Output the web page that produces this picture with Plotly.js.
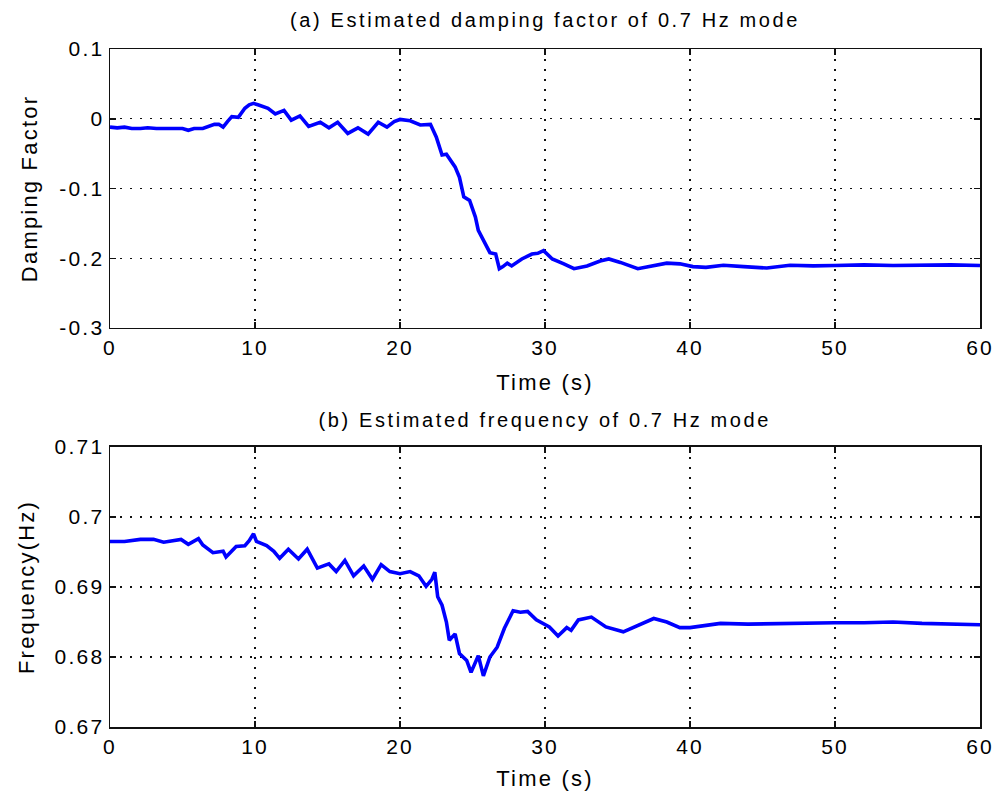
<!DOCTYPE html>
<html>
<head>
<meta charset="utf-8">
<script src="https://cdn.plot.ly/plotly-3.0.1.min.js"></script>
<style>
  html, body { margin: 0; padding: 0; background: #fff; }
  #chart .main-svg text { letter-spacing: 2.2px; }
  #chart .main-svg text.annotation-text { letter-spacing: 2.6px; }
</style>
</head>
<body>
<div id="chart" style="width:994px;height:797px;"></div>
<script>
// ---- Data ----
const timeA = [0, 0.5, 1, 1.5, 2.1, 2.6, 3.2, 3.9, 4.5, 5.0, 5.4, 5.8, 6.4, 6.8, 7.2, 7.5, 7.8, 8.1, 8.4, 8.85,
  9.3, 9.6, 9.9, 10.2, 10.5, 10.9, 11.4, 12.0, 12.5, 13.1, 13.7, 14.1, 14.5, 15.1, 15.7, 16.4, 17.1, 17.8, 18.5, 19.1,
  19.6, 20.0, 20.7, 21.4, 22.1, 22.5, 22.9, 23.2, 23.5, 23.8, 24.1, 24.4, 24.8, 25.2, 25.4, 25.9, 26.2, 26.6, 26.85, 27.1,
  27.4, 27.7, 28.4, 29.1, 29.5, 29.9, 30.5, 31.3, 32.0, 32.9, 33.8, 34.4, 35.2, 36.4, 37.5, 38.4, 39.3, 40.2, 41.1, 42.3,
  43.7, 45.3, 46.9, 48.5, 50, 52, 54, 56, 58, 60];
const dampingFactor = [-0.012, -0.013, -0.012, -0.014, -0.014, -0.013, -0.014, -0.014, -0.013, -0.014, -0.0165, -0.014, -0.014, -0.011, -0.008, -0.008, -0.012, -0.004, 0.003, 0.002,
  0.015, 0.020, 0.022, 0.020, 0.018, 0.015, 0.007, 0.012, -0.002, 0.004, -0.011, -0.008, -0.005, -0.013, -0.005, -0.021, -0.013, -0.022, -0.005, -0.012,
  -0.004, -0.001, -0.003, -0.009, -0.008, -0.026, -0.052, -0.051, -0.060, -0.069, -0.084, -0.112, -0.117, -0.141, -0.160, -0.180, -0.192, -0.194, -0.215, -0.212,
  -0.207, -0.211, -0.201, -0.194, -0.193, -0.189, -0.201, -0.208, -0.215, -0.211, -0.204, -0.201, -0.206, -0.215, -0.211, -0.207, -0.208, -0.212, -0.213, -0.210,
  -0.212, -0.214, -0.210, -0.211, -0.2105, -0.2095, -0.2105, -0.2095, -0.2095, -0.2105];

const timeB = [0, 1, 2.1, 3.0, 3.7, 4.3, 4.9, 5.4, 6.1, 6.4, 7.1, 7.8, 8.0, 8.7, 9.3, 9.6, 9.9, 10.1, 10.8, 11.3,
  11.7, 12.3, 13.0, 13.6, 14.3, 15.1, 15.6, 16.2, 16.8, 17.5, 18.1, 18.7, 19.3, 20.0, 20.7, 21.3, 21.8, 22.2, 22.4, 22.6,
  22.9, 23.2, 23.4, 23.8, 24.1, 24.6, 24.9, 25.4, 25.75, 26.2, 26.7, 27.2, 27.8, 28.3, 28.8, 29.4, 30.3, 30.9, 31.5, 31.8,
  32.3, 33.2, 34.2, 35.4, 36.1, 37.5, 38.4, 39.3, 40.0, 40.9, 42.1, 44, 46, 48, 50, 52, 54, 56, 58, 60];
const frequency = [0.6965, 0.6965, 0.6968, 0.6968, 0.6964, 0.6966, 0.6968, 0.6961, 0.6969, 0.6960, 0.6949, 0.6951, 0.6943, 0.6958, 0.6959, 0.6966, 0.6976, 0.6965, 0.6959, 0.6951,
  0.6941, 0.6954, 0.6940, 0.6954, 0.6927, 0.6933, 0.6922, 0.6938, 0.6916, 0.6930, 0.6911, 0.6932, 0.6922, 0.6919, 0.6922, 0.6916, 0.6901, 0.6911, 0.6921, 0.6886,
  0.6874, 0.6850, 0.6824, 0.6833, 0.6805, 0.6795, 0.6778, 0.6802, 0.6773, 0.6800, 0.6814, 0.6841, 0.6866, 0.6864, 0.6865, 0.6853, 0.6843, 0.6830, 0.6842, 0.6838,
  0.6853, 0.6857, 0.6843, 0.6836, 0.6842, 0.6855, 0.6850, 0.6842, 0.6842, 0.6845, 0.6848, 0.6847, 0.6848, 0.6848, 0.6849, 0.6849, 0.6850, 0.6848, 0.6847, 0.6846];

const xTickVals = [0, 10, 20, 30, 40, 50, 60];
const xTickText = ['0', '10', '20', '30', '40', '50', '60'];
const yTickValsA = [0.1, 0, -0.1, -0.2, -0.3];
const yTickTextA = ['0.1', '0', '-0.1', '-0.2', '-0.3'];
const yTickValsB = [0.71, 0.70, 0.69, 0.68, 0.67];
const yTickTextB = ['0.71', '0.7', '0.69', '0.68', '0.67'];

const titleA = '(a) Estimated damping factor of 0.7 Hz mode';
const titleB = '(b) Estimated frequency of 0.7 Hz mode';

// ---- Styling ----
const FONT = 'Liberation Sans, Arial, sans-serif';
const tickFont = {family: FONT, size: 21, color: '#000'};
const axTitleFont = {family: FONT, size: 22, color: '#000'};
const gridDash = '1.6px,8.4px';

function xAxis(anchor, standoff) {
  return {
    anchor: anchor, range: [0, 60], tickvals: xTickVals, ticktext: xTickText,
    showgrid: true, gridcolor: '#111', gridwidth: 1.4, griddash: gridDash,
    zeroline: false, showline: true, linecolor: '#111', linewidth: 1.5, mirror: 'ticks',
    ticks: 'inside', ticklen: 6, tickwidth: 1.5, tickcolor: '#111',
    tickfont: tickFont, automargin: false,
    title: {text: 'Time (s)', font: axTitleFont, standoff: standoff}
  };
}
function yAxis(anchor, domain, range, vals, text, title, standoff) {
  return {
    anchor: anchor, domain: domain, range: range, tickvals: vals, ticktext: text,
    showgrid: true, gridcolor: '#111', gridwidth: 1.4, griddash: gridDash,
    zeroline: false, showline: true, linecolor: '#111', linewidth: 1.5, mirror: 'ticks',
    ticks: 'inside', ticklen: 6, tickwidth: 1.5, tickcolor: '#111',
    tickfont: tickFont, automargin: false,
    title: {text: title, font: axTitleFont, standoff: standoff}
  };
}

const traces = [
  {x: timeA, y: dampingFactor, xaxis: 'x', yaxis: 'y', type: 'scatter', mode: 'lines',
   line: {color: '#0000ff', width: 3.6}, hoverinfo: 'skip'},
  {x: timeB, y: frequency, xaxis: 'x2', yaxis: 'y2', type: 'scatter', mode: 'lines',
   line: {color: '#0000ff', width: 3.6}, hoverinfo: 'skip'}
];

const layout = {
  width: 994, height: 797,
  margin: {l: 110, r: 14, t: 49, b: 70, pad: 0},
  paper_bgcolor: '#fff', plot_bgcolor: '#fff',
  showlegend: false,
  xaxis: xAxis('y', 17),
  yaxis: yAxis('x', [0.5885, 1], [-0.3, 0.1], yTickValsA, yTickTextA, 'Damping Factor', 24),
  xaxis2: xAxis('y2', 14),
  yaxis2: yAxis('x2', [0, 0.413], [0.67, 0.71], yTickValsB, yTickTextB, 'Frequency(Hz)', 22),
  annotations: [
    {text: titleA, xref: 'paper', yref: 'paper', x: 0.5, y: 1.0428, xanchor: 'center', yanchor: 'middle',
     showarrow: false, font: {family: FONT, size: 20, color: '#000'}},
    {text: titleB, xref: 'paper', yref: 'paper', x: 0.5, y: 0.4528, xanchor: 'center', yanchor: 'middle',
     showarrow: false, font: {family: FONT, size: 20, color: '#000'}}
  ]
};

Plotly.newPlot('chart', traces, layout, {displayModeBar: false, staticPlot: true});
</script>
</body>
</html>
